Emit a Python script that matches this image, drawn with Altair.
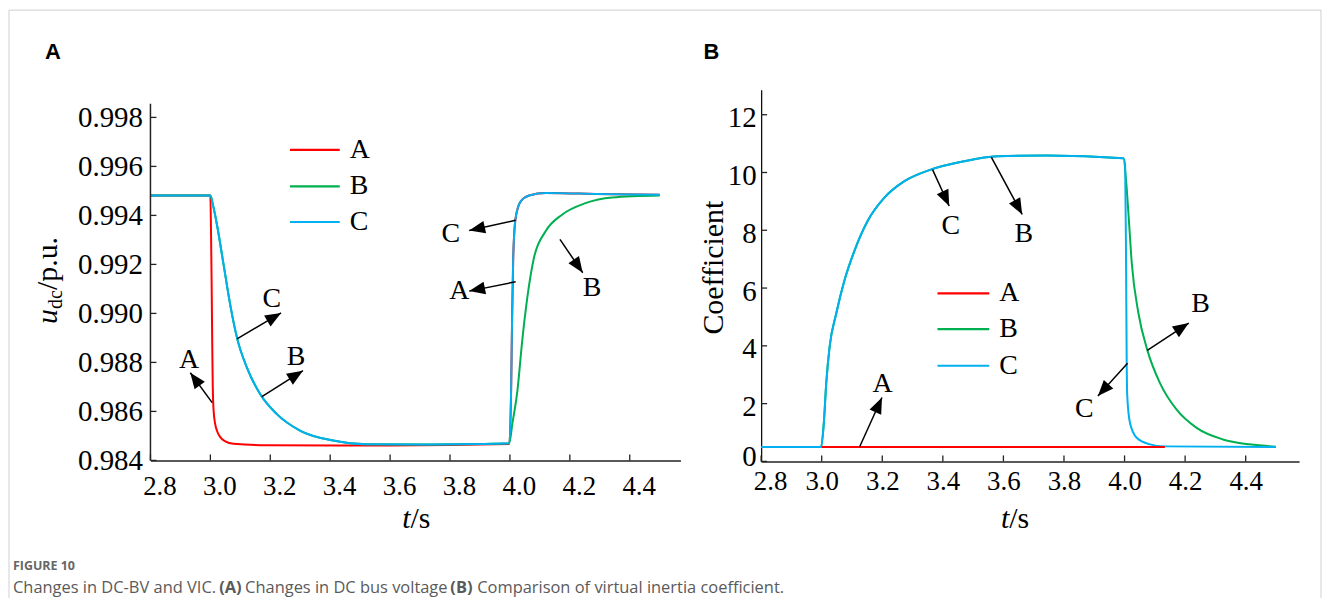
import math
import altair as alt
import pandas as pd

# ---------------- data ----------------
SERIES = ["A", "B", "C"]
COLORS = {"A": "#ff0000", "B": "#00b050", "C": "#00b0f0"}

# Panel A : DC bus voltage u_dc (p.u.) versus t (s)
pa_A_t = [2.8, 3.0, 3.002, 3.004, 3.006, 3.008, 3.011, 3.016, 3.024, 3.033, 3.05, 3.077, 3.19, 3.6, 3.998,
          4.004, 4.007, 4.011, 4.019, 4.036, 4.064, 4.12, 4.23, 4.35, 4.5]
pa_A_v = [0.99481, 0.99481, 0.9935, 0.9915, 0.9890, 0.9870, 0.9860, 0.98549, 0.98515, 0.98495, 0.98478, 0.98468,
          0.98462, 0.98461, 0.98467, 0.9869, 0.9896, 0.9923, 0.99389, 0.99457, 0.99481, 0.99491, 0.99489, 0.99486, 0.99484]
pa_B_t = [2.8, 3.0, 3.01, 3.022, 3.044, 3.066, 3.09, 3.122, 3.166, 3.221, 3.299, 3.41, 3.521, 3.7, 3.9, 3.998,
          4.008, 4.025, 4.041, 4.058, 4.08, 4.119, 4.174, 4.252, 4.341, 4.5]
pa_B_v = [0.99481, 0.99481, 0.99435, 0.99362, 0.99200, 0.99037, 0.98895, 0.98779, 0.98671, 0.98590, 0.98522,
          0.98481, 0.98466, 0.98465, 0.98467, 0.9847,
          0.98549, 0.98685, 0.98888, 0.99064, 0.99226, 0.99335, 0.99403, 0.99450, 0.99473, 0.99481]
pa_C_t = [2.8, 3.0, 3.01, 3.022, 3.044, 3.066, 3.09, 3.122, 3.166, 3.221, 3.299, 3.41, 3.521, 3.7, 3.9, 3.998,
          4.004, 4.007, 4.011, 4.019, 4.036, 4.064, 4.12, 4.23, 4.35, 4.5]
pa_C_v = [0.99481, 0.99481, 0.99435, 0.99362, 0.99200, 0.99037, 0.98895, 0.98779, 0.98671, 0.98590, 0.98522,
          0.98481, 0.98466, 0.98465, 0.98467, 0.9847,
          0.9869, 0.9896, 0.9923, 0.99389, 0.99457, 0.99481, 0.99491, 0.99489, 0.99486, 0.99484]

# Panel B : virtual inertia coefficient versus t (s)
pb_A_t = [3.0, 4.133]
pb_A_v = [0.5, 0.5]
pb_B_t = [2.8, 2.998, 3.007, 3.015, 3.026, 3.048, 3.075, 3.108, 3.152, 3.207, 3.273, 3.36, 3.47, 3.58, 3.744, 3.996,
          4.006, 4.013, 4.024, 4.046, 4.075, 4.117, 4.172, 4.238, 4.325, 4.413, 4.5]
pb_B_v = [0.5, 0.5, 1.33, 2.71, 3.96, 5.12, 6.26, 7.29, 8.33, 9.13, 9.70, 10.10, 10.39, 10.56, 10.59, 10.49,
          9.6, 8.56, 6.84, 5.12, 3.86, 2.71, 1.79, 1.16, 0.76, 0.59, 0.51]
pb_C_t = [2.8, 2.998, 3.007, 3.015, 3.026, 3.048, 3.075, 3.108, 3.152, 3.207, 3.273, 3.36, 3.47, 3.58, 3.744, 3.996,
          4.002, 4.005, 4.007, 4.009, 4.018, 4.04, 4.084, 4.13, 4.5]
pb_C_v = [0.5, 0.5, 1.33, 2.71, 3.96, 5.12, 6.26, 7.29, 8.33, 9.13, 9.70, 10.10, 10.39, 10.56, 10.59, 10.49,
          10.28, 6.84, 3.51, 2.25, 1.33, 0.82, 0.59, 0.52, 0.5]

# tick values
x_ticks = [2.8, 3.0, 3.2, 3.4, 3.6, 3.8, 4.0, 4.2, 4.4]
ya_ticks = [0.984, 0.986, 0.988, 0.990, 0.992, 0.994, 0.996, 0.998]
yb_ticks = [0, 2, 4, 6, 8, 10, 12]

# annotations (label position, arrow start, arrow tip) in data units
annA_lab = ["C", "B", "A", "C", "A", "B"]
annA_lab_t = [3.205, 3.286, 2.929, 3.803, 3.831, 4.274]
annA_lab_v = [0.99058, 0.98820, 0.98809, 0.99322, 0.99091, 0.99105]
annA_from_t = [3.089, 3.172, 3.006, 4.019, 4.019, 4.167]
annA_from_v = [0.98896, 0.98660, 0.98636, 0.99380, 0.99129, 0.99302]
annA_to_t = [3.236, 3.309, 2.933, 3.864, 3.864, 4.243]
annA_to_v = [0.99002, 0.98766, 0.98758, 0.99338, 0.99091, 0.99166]

annB_lab = ["C", "B", "A", "B", "C"]
annB_lab_t = [3.426, 3.667, 3.201, 4.251, 3.867]
annB_lab_v = [8.15, 7.86, 2.69, 5.45, 1.83]
annB_from_t = [3.366, 3.560, 3.125, 4.075, 4.010]
annB_from_v = [10.10, 10.53, 0.50, 3.84, 3.40]
annB_to_t = [3.421, 3.662, 3.199, 4.212, 3.912]
annB_to_v = [8.84, 8.55, 2.21, 4.79, 2.26]

# caption
caption_fig = "FIGURE 10"
caption_parts = ["Changes in DC-BV and VIC.", "(A)", "Changes in DC bus voltage", "(B)",
                 "Comparison of virtual inertia coefficient."]

# ---------------- layout ----------------
SERIF = "Liberation Serif"
A_W, A_H = 532, 372
B_W, B_H = 540, 373
A_XDOM = [2.8, 2.8 + A_W / 300.7]
A_YDOM = [0.984, 0.984 + A_H / 24593.0]
A_YTOP = 0.99856
B_XDOM = [2.8, 2.8 + B_W / 304.0]
B_YDOM = [0, B_H / 29.0]
ARROW = "M0,0L0.8,2L-0.8,2Z"
ONE = pd.DataFrame({"k": [0]})


def ax_x(pad, offset):
    return alt.Axis(values=x_ticks, format=".1f", title=None, grid=False, ticks=False, tickSize=0,
                    domain=True, domainColor="#222222", domainWidth=1.5,
                    labelFont=SERIF, labelFontSize=27, labelColor="black", labelPadding=pad,
                    labelOffset=offset, labelOverlap=False, labelFlush=False)


axA_x = ax_x(13, 9)
axA_y = alt.Axis(values=ya_ticks, format=".3f", title=None, grid=False, ticks=False, tickSize=0, domain=False,
                 labelFont=SERIF, labelFontSize=29, labelColor="black", labelPadding=8, labelOverlap=False,
                 labelFlush=False)
axB_x = ax_x(7, {"condition": {"test": "datum.value < 2.9", "value": 9}, "value": 0})
axB_y = alt.Axis(values=yb_ticks, format="d", title=None, grid=False, ticks=False, tickSize=0, domain=True,
                 domainColor="#111111", domainWidth=1.3,
                 labelFont=SERIF, labelFontSize=29, labelColor="black", labelPadding=5,
                 labelOffset={"condition": {"test": "datum.value < 1", "value": -5}, "value": 3},
                 labelOverlap=False, labelFlush=False)


def X(field, dom, axis):
    return alt.X(f"{field}:Q", scale=alt.Scale(domain=dom, nice=False, zero=False), axis=axis)


def Y(field, dom, axis):
    return alt.Y(f"{field}:Q", scale=alt.Scale(domain=dom, nice=False, zero=False), axis=axis)


def build_panel(series, xdom, ydom, W, H, axx, axy, yticks, ann, legend_pos, draw_order, width):
    xs = lambda f: X(f, xdom, axx)
    ys = lambda f: Y(f, ydom, axy)
    layers = []
    # inward ticks
    layers.append(alt.Chart(pd.DataFrame({"tv": x_ticks})).mark_rule(color="#222222", strokeWidth=1.3)
                  .encode(x=xs("tv"), y=alt.value(H), y2=alt.value(H - 6)))
    layers.append(alt.Chart(pd.DataFrame({"yv": yticks})).mark_rule(color="#222222", strokeWidth=1.3)
                  .encode(y=ys("yv"), x=alt.value(0), x2=alt.value(6)))
    # curves
    for s in draw_order:
        t, v = series[s]
        df = pd.DataFrame({"t": t, "v": v})
        layers.append(alt.Chart(df).mark_line(color=COLORS[s], strokeWidth=width, interpolate="monotone")
                      .encode(x=xs("t"), y=ys("v")))
    # annotations
    lab, lt, lv, ft, fv, tt, tv = ann
    sx = W / (xdom[1] - xdom[0])
    sy = H / (ydom[1] - ydom[0])
    ang = []
    for a, b, c, d in zip(ft, fv, tt, tv):
        dx = (c - a) * sx
        dy = -(d - b) * sy
        ang.append(math.degrees(math.atan2(dx, -dy)) % 360)
    adf = pd.DataFrame({"lab": lab, "lt": lt, "lv": lv, "ft": ft, "fv": fv, "tt": tt, "tv": tv, "ang": ang})
    layers.append(alt.Chart(adf).mark_rule(color="black", strokeWidth=1.5)
                  .encode(x=xs("ft"), y=ys("fv"), x2="tt", y2="tv"))
    layers.append(alt.Chart(adf).mark_point(shape=ARROW, filled=True, size=256, color="black", opacity=1,
                                            strokeWidth=0)
                  .encode(x=xs("tt"), y=ys("tv"), angle=alt.Angle("ang:Q", scale=None)))
    layers.append(alt.Chart(adf).mark_text(font=SERIF, fontSize=28, color="black", align="center",
                                           baseline="middle")
                  .encode(x=xs("lt"), y=ys("lv"), text="lab:N"))
    # legend (drawn inside the plot, as in the figure)
    x0, x1, xl, ypos = legend_pos
    for s, yy in zip(SERIES, ypos):
        layers.append(alt.Chart(ONE).mark_rule(color=COLORS[s], strokeWidth=2.2)
                      .encode(x=alt.value(x0), x2=alt.value(x1), y=alt.value(yy)))
        layers.append(alt.Chart(ONE).mark_text(font=SERIF, fontSize=28, color="black", align="left",
                                               baseline="middle")
                      .encode(x=alt.value(xl), y=alt.value(yy), text=alt.value(s)))
    return layers


def txt(s, x, y, size, font=SERIF, style="normal", weight="normal", align="left", baseline="alphabetic",
        angle=0, color="black"):
    return alt.Chart(ONE).mark_text(text=s, font=font, fontSize=size, fontStyle=style, fontWeight=weight,
                                    align=align, baseline=baseline, angle=angle, color=color).encode(
        x=alt.value(x), y=alt.value(y))


def rule(x, x2, y, y2, color="#d0d0d0"):
    return alt.Chart(ONE).mark_rule(color=color, strokeWidth=1).encode(
        x=alt.value(x), x2=alt.value(x2), y=alt.value(y), y2=alt.value(y2))


# ---------- panel A ----------
seriesA = {"A": (pa_A_t, pa_A_v), "B": (pa_B_t, pa_B_v), "C": (pa_C_t, pa_C_v)}
layersA = build_panel(seriesA, A_XDOM, A_YDOM, A_W, A_H, axA_x, axA_y, ya_ticks,
                      (annA_lab, annA_lab_t, annA_lab_v, annA_from_t, annA_from_v, annA_to_t, annA_to_v),
                      (140, 190, 200, [60.3, 97, 132.7]), ["A", "B", "C"], 2.0)
# y axis line of panel A (stops at the top of the tick range)
layersA.append(alt.Chart(ONE).mark_rule(color="#222222", strokeWidth=1.5).encode(
    x=alt.value(0), y=alt.datum(A_YDOM[0], scale=alt.Scale(domain=A_YDOM, nice=False, zero=False)),
    y2=alt.datum(A_YTOP)))
# titles
layersA += [
    txt("u", -94, 235, 30, style="italic", angle=270),
    txt("dc", -89, 220, 20, angle=270),
    txt("/p.u.", -94, 201, 30, angle=270),
    txt("t", 261, 440, 30, style="italic", align="right"),
    txt("/s", 261, 440, 30),
    txt("A", -98, -38, 22, font="Liberation Sans", weight="bold", align="center", baseline="middle"),
]
# figure frame and caption
CAP_X = [-138, 69, 95, 301, 328]
CAP_W = ["normal", "bold", "normal", "bold", "normal"]
layersA += [
    rule(-142, -142, -80, 510),
    rule(-142, 1175, -80, -80),
    rule(1175, 1175, -80, 510),
    txt(caption_fig, -138, 478, 12.5, font="Open Sans", weight="bold", baseline="middle", color="#666666"),
]
for part, cx, cw in zip(caption_parts, CAP_X, CAP_W):
    layersA.append(txt(part, cx, 500, 16.5, font="Open Sans", weight=cw, baseline="middle", color="#5a5a5a"))
panelA = alt.layer(*layersA).properties(width=A_W, height=A_H)

# ---------- panel B ----------
seriesB = {"A": (pb_A_t, pb_A_v), "B": (pb_B_t, pb_B_v), "C": (pb_C_t, pb_C_v)}
layersB = build_panel(seriesB, B_XDOM, B_YDOM, B_W, B_H, axB_x, axB_y, yb_ticks,
                      (annB_lab, annB_lab_t, annB_lab_v, annB_from_t, annB_from_v, annB_to_t, annB_to_v),
                      (177, 229, 239, [204.3, 240.3, 277]), ["B", "C", "A"], 2.0)
layersB += [
    txt("Coefficient", -38, 178.5, 30, align="center", angle=270),
    txt("t", 249, 440, 30, style="italic", align="right"),
    txt("/s", 249, 440, 30),
    txt("B", -50, -38, 22, font="Liberation Sans", weight="bold", align="center", baseline="middle"),
]
panelB = alt.layer(*layersB).properties(width=B_W, height=B_H)

chart = (alt.hconcat(panelA, panelB, spacing=81, bounds="flush")
         .properties(padding=0, background="white")
         .configure_view(stroke=None))

chart.save("out.html", embed_options={"renderer": "svg", "actions": False})
